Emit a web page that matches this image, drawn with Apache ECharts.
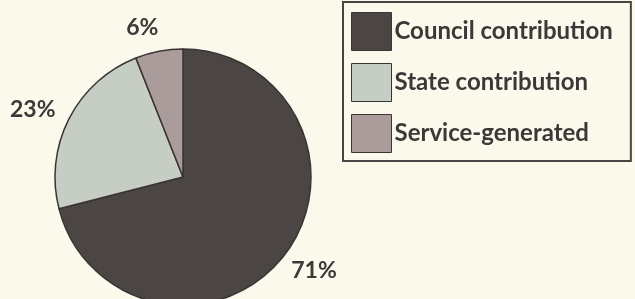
<!DOCTYPE html>
<html>
<head>
<meta charset="utf-8">
<script src="https://cdn.jsdelivr.net/npm/echarts@6/dist/echarts.min.js"></script>
<style>
  html, body { margin: 0; padding: 0; background: #fbf8ec; }
  #chart { width: 635px; height: 299px; }
</style>
</head>
<body>
<div id="chart"></div>
<script>
// funding sources, percent
var categories = ['Council contribution', 'State contribution', 'Service-generated'];
var shares = [71, 23, 6];
var colors = ['#4b4544', '#c6cdc2', '#a99c9b'];
// small nudges so the percent labels sit where the printed ones do
var labelShift = [[-9, 7], [4, -3], [7, -10]];

var chart = echarts.init(document.getElementById('chart'), null, { renderer: 'canvas' });

var data = categories.map(function(name, i) {
  return { name: name, value: shares[i], itemStyle: { color: colors[i] } };
});

chart.setOption({
  animation: false,
  backgroundColor: '#fbf8ec',
  textStyle: { fontFamily: 'Lato' },
  legend: {
    orient: 'vertical',
    left: 343,
    top: 2,
    padding: [10, 18, 8, 8],
    itemWidth: 40,
    itemHeight: 38,
    itemGap: 12,
    borderColor: '#4a4444',
    borderWidth: 2,
    icon: 'rect',
    itemStyle: { borderColor: '#3a3434', borderWidth: 1 },
    textStyle: { fontFamily: 'Lato', fontWeight: 'bold', fontSize: 24, color: '#3d3838', padding: [0, 0, 0, -2] },
    data: categories
  },
  series: [{
    type: 'pie',
    center: [183, 177],
    radius: 128,
    startAngle: 90,
    clockwise: true,
    data: data,
    itemStyle: { borderColor: '#3a3434', borderWidth: 1.5 },
    label: {
      show: true,
      position: 'outside',
      formatter: '{c}%',
      overflow: 'none',
      fontFamily: 'Lato',
      fontWeight: 'bold',
      fontSize: 23,
      color: '#3d3838'
    },
    labelLine: { show: false, length: 14, length2: 0 },
    labelLayout: function(p) {
      var s = labelShift[p.dataIndex];
      return { dx: s[0], dy: s[1] };
    },
    emphasis: { disabled: true }
  }]
});
</script>
</body>
</html>
